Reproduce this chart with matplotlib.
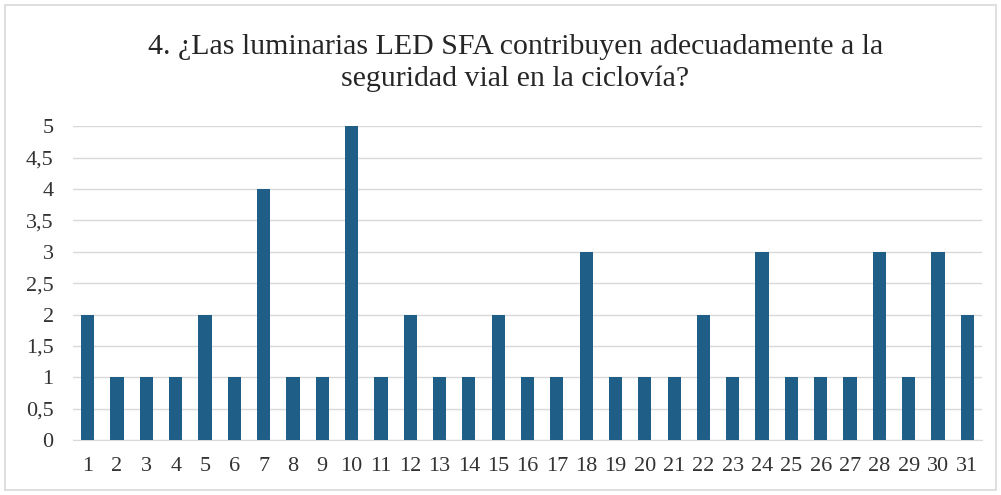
import matplotlib.pyplot as plt
from matplotlib.patches import Rectangle

# Respuestas por encuestado (1-31)
encuestados = list(range(1, 32))
respuestas = [2, 1, 1, 1, 2, 1, 4, 1, 1, 5, 1, 2, 1, 1, 2, 1, 1, 3, 1, 1, 1,
              2, 1, 3, 1, 1, 1, 3, 1, 3, 2]
yticks = [0, 0.5, 1, 1.5, 2, 2.5, 3, 3.5, 4, 4.5, 5]
ytick_labels = ["0", "0,5", "1", "1,5", "2", "2,5", "3", "3,5", "4", "4,5", "5"]

plt.rcParams['font.family'] = ['Liberation Serif', 'DejaVu Serif']

fig = plt.figure(figsize=(10.01, 4.95), dpi=100)
ax = fig.add_axes([0.073, 0.111, 0.908, 0.634])

ax.bar(encuestados, respuestas, width=0.45, color="#1F5E87", zorder=3)

ax.set_xlim(0.5, 31.5)
ax.set_ylim(0, 5)
ax.set_xticks(encuestados)
ax.set_xticklabels([str(e) for e in encuestados])
ax.set_yticks(yticks)
ax.set_yticklabels(ytick_labels)
ax.tick_params(axis='both', length=0, labelsize=16, colors="#333333")
ax.tick_params(axis='x', pad=12)
ax.tick_params(axis='y', pad=14)

ax.grid(axis='y', color="#d9d9d9", linewidth=1, zorder=0)
for s in ["top", "right", "left"]:
    ax.spines[s].set_visible(False)
ax.spines["bottom"].set_color("#d9d9d9")

fig.text(0.515, 0.873, "4. ¿Las luminarias LED SFA contribuyen adecuadamente a la\nseguridad vial en la ciclovía?",
         ha="center", va="center", fontsize=21.5, color="#262626", linespacing=1.3)

# Marco del gráfico
fig.patches.append(Rectangle((0.005, 0.01), 0.99, 0.98, transform=fig.transFigure,
                             fill=False, edgecolor="#d9d9d9", linewidth=1.2))

fig.savefig("out.png", dpi=100)
